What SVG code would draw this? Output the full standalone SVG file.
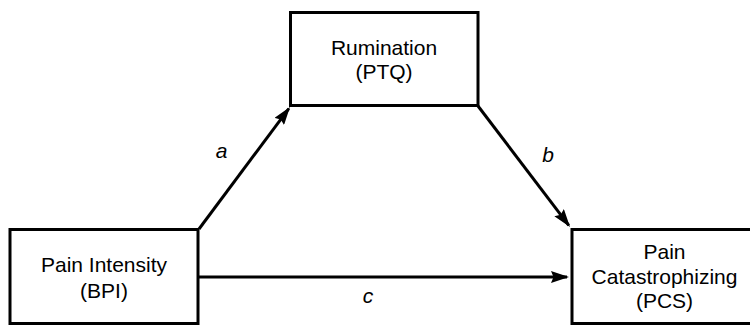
<svg xmlns="http://www.w3.org/2000/svg" width="750" height="327" viewBox="0 0 750 327">
  <style>
    .box { fill: #ffffff; stroke: #000000; stroke-width: 3; }
    .label { font-family: "Liberation Sans", Arial, sans-serif; font-size: 21px; fill: #000000; text-anchor: middle; }
    .path-label { font-family: "Liberation Sans", Arial, sans-serif; font-size: 21px; font-style: italic; fill: #000000; text-anchor: middle; }
    .edge { stroke: #000000; stroke-width: 3; fill: none; marker-end: url(#arrow); }
  </style>
  <defs>
    <marker id="arrow" markerUnits="userSpaceOnUse" viewBox="0 0 18 12" markerWidth="18" markerHeight="12" refX="16" refY="6" orient="auto">
      <path d="M0,0 L18,6 L0,12 L2.5,6 z" fill="#000000"/>
    </marker>
  </defs>

  <rect width="750" height="327" fill="#ffffff"/>

  <!-- connectors -->
  <g id="connectors">
    <line class="edge" x1="199" y1="229" x2="288.8" y2="108.6"/>
    <line class="edge" x1="478" y1="106" x2="568.8" y2="225.4"/>
    <line class="edge" x1="199" y1="277" x2="567" y2="277"/>
    <text class="path-label" x="221.5" y="158">a</text>
    <text class="path-label" x="548" y="162">b</text>
    <text class="path-label" x="368" y="303">c</text>
  </g>

  <!-- mediator -->
  <g id="rumination">
    <rect class="box" x="290.5" y="12.5" width="187.5" height="93"/>
    <text class="label" x="384" y="55">Rumination</text>
    <text class="label" x="384" y="79">(PTQ)</text>
  </g>

  <!-- predictor -->
  <g id="pain-intensity">
    <rect class="box" x="10" y="229.5" width="188" height="94"/>
    <text class="label" x="104" y="272">Pain Intensity</text>
    <text class="label" x="104" y="298">(BPI)</text>
  </g>

  <!-- outcome -->
  <g id="pain-catastrophizing">
    <rect class="box" x="572" y="229.5" width="185" height="94"/>
    <text class="label" x="664.5" y="259">Pain</text>
    <text class="label" x="664.5" y="284">Catastrophizing</text>
    <text class="label" x="664.5" y="308">(PCS)</text>
  </g>
</svg>
